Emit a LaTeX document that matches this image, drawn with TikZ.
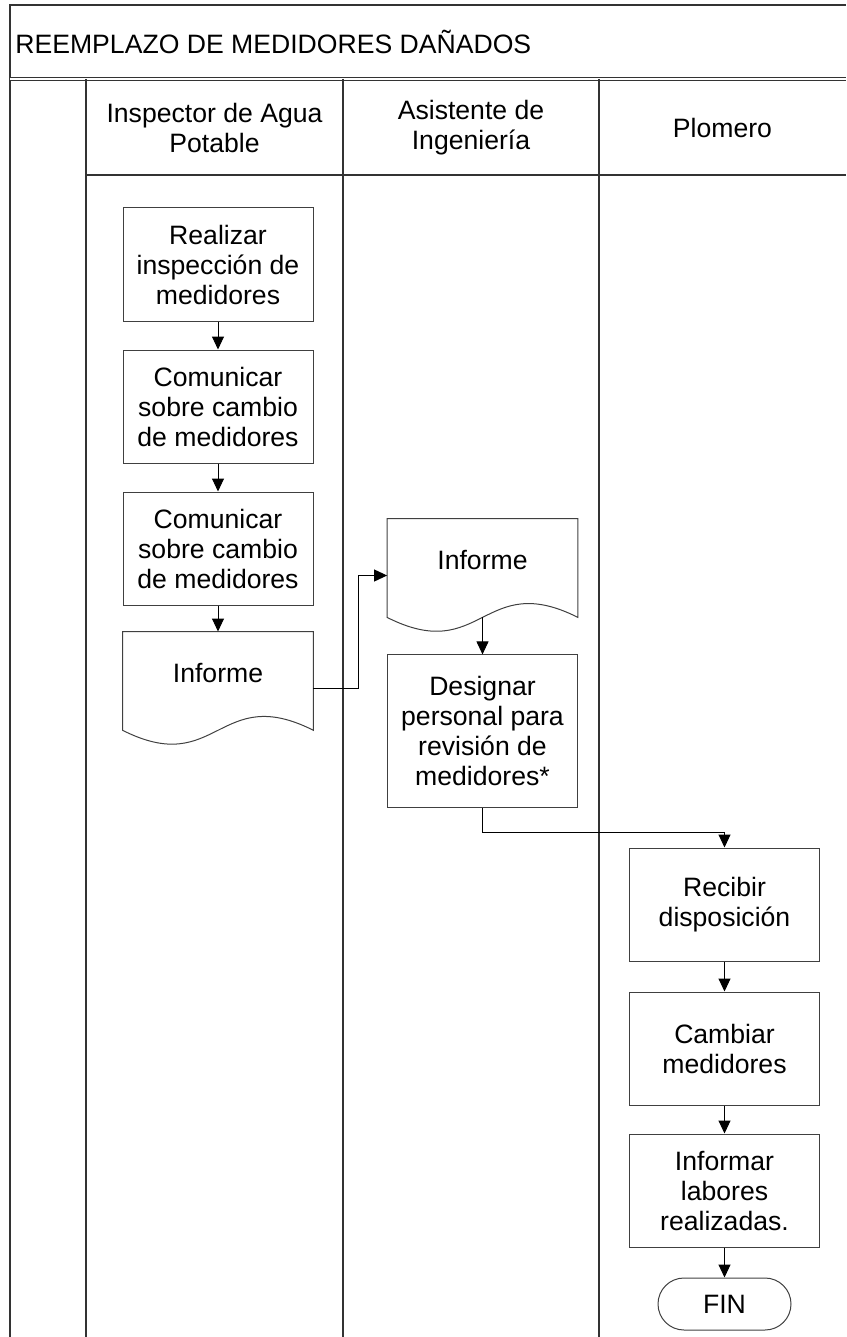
\documentclass[tikz,border=0pt]{standalone}
\usepackage{fontspec}
\setmainfont{Liberation Sans}
\usetikzlibrary{arrows.meta}
\usetikzlibrary{positioning}

\tikzset{
  box/.style={draw=black!75, line width=0.5pt, minimum width=95pt, minimum height=56.5pt, align=center, inner sep=2pt},
  docbox/.style={minimum width=95pt, minimum height=56.5pt, inner sep=0pt, text depth=15.5pt},
  docline/.style={draw=black!75, line width=0.5pt},
  fin/.style={draw=black!75, line width=0.5pt, rounded corners=13pt, minimum width=66.5pt, minimum height=26pt},
  lane/.style={draw=black!80, line width=0.8pt},
  flecha/.style={->, line width=0.5pt},
}

\begin{document}
\begin{tikzpicture}[x=0.5pt, y=-0.5pt, >={Triangle[width=6pt,length=6.5pt]}, font=\fontsize{13.3}{15}\selectfont, node distance=14pt]
\useasboundingbox (0,0) rectangle (846,1337);
% marco y carriles
\draw[lane] (10,1337) -- (10,5) -- (846,5);
\draw[lane, double, double distance=0.6pt, line width=0.5pt] (10,79) -- (846,79);
\draw[lane] (86,175) -- (846,175);
\draw[lane] (86,79) -- (86,1337);
\draw[lane] (343,79) -- (343,1337);
\draw[lane] (599,79) -- (599,1337);
\node[anchor=west, inner sep=0pt] (titulo) at (15,42) {REEMPLAZO DE MEDIDORES DAÑADOS};
\node[align=center] (inspector) at (214.5,128) {Inspector de Agua\\Potable};
\node[align=center] (asistente) at (471,128) {Asistente de\\Ingeniería};
\node (plomero) at (722.5,128) {Plomero};

% inspector
\node[box] (realizar) at (218,264.5) {Realizar\\inspección de\\medidores};
\node[box, below=of realizar] (comunicar1) {Comunicar\\sobre cambio\\de medidores};
\node[box, below=of comunicar1] (comunicar2) {Comunicar\\sobre cambio\\de medidores};
\node[docbox, below=13pt of comunicar2] (informe1) {Informe};
\draw[docline] (informe1.north west) -- (informe1.north east) -- ([yshift=7.5pt]informe1.south east)
  .. controls ([shift={(-47.5pt,31.5pt)}]informe1.south east) and ([shift={(47.5pt,-16.5pt)}]informe1.south west)
  .. ([yshift=7.5pt]informe1.south west) -- cycle;

% asistente
\node[docbox] (informe2) at (482.5,575.5) {Informe};
\draw[docline] (informe2.north west) -- (informe2.north east) -- ([yshift=7.5pt]informe2.south east)
  .. controls ([shift={(-47.5pt,31.5pt)}]informe2.south east) and ([shift={(47.5pt,-16.5pt)}]informe2.south west)
  .. ([yshift=7.5pt]informe2.south west) -- cycle;
\node[box, minimum height=76.5pt, below=11pt of informe2] (designar) {Designar\\personal para\\revisión de\\medidores*};

% plomero
\node[box] (recibir) at (724.5,904.5) {Recibir\\disposición};
\node[box, below=15pt of recibir] (cambiar) {Cambiar\\medidores};
\node[box, below=of cambiar] (informar) {Informar\\labores\\realizadas.};
\node[fin, below=15pt of informar] (fin) {FIN};

% flechas
\draw[flecha] (realizar) -- (comunicar1);
\draw[flecha] (comunicar1) -- (comunicar2);
\draw[flecha] (comunicar2) -- (informe1);
\draw[flecha] (informe1.east) -- ++(22.5pt,0pt) |- (informe2.west);
\draw[flecha] ([yshift=7.5pt]informe2.south) -- (designar.north);
\draw[flecha] (designar.south) -- ++(0pt,-12pt) -| (recibir.north);
\draw[flecha] (recibir) -- (cambiar);
\draw[flecha] (cambiar) -- (informar);
\draw[flecha] (informar) -- (fin);
\end{tikzpicture}
\end{document}
